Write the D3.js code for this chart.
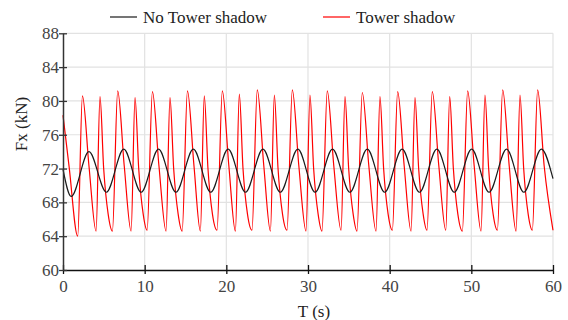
<!DOCTYPE html>
<html>
<head>
<meta charset="utf-8">
<script src="https://cdn.jsdelivr.net/npm/d3@7"></script>
<style>
  body { margin: 0; background: #fff; }
  svg text { font-family: "Liberation Serif"; }
  .grid line { stroke: #e2e2e2; stroke-width: 1.2; }
</style>
</head>
<body>
<svg width="568" height="320"></svg>
<script>
// tick labels
const xTicks = [0, 10, 20, 30, 40, 50, 60];
const yTicks = [60, 64, 68, 72, 76, 80, 84, 88];

// No Tower shadow: start, troughs, peaks, end (T in s, Fx in kN)
const blackT = [0, 1.0, 3.18, 5.31, 7.44, 9.57, 11.70, 13.83, 15.96, 18.09, 20.22, 22.35, 24.48,
  26.61, 28.76, 30.87, 33.0, 35.13, 37.26, 39.39, 41.52, 43.65, 45.78, 47.91, 50.04,
  52.17, 54.32, 56.43, 58.58, 60];
const blackV = [71.9, 68.7, 74.0, 69.2, 74.3, 69.2, 74.3, 69.2, 74.3, 69.2, 74.3, 69.2, 74.3,
  69.2, 74.3, 69.2, 74.3, 69.2, 74.3, 69.2, 74.3, 69.2, 74.3, 69.2, 74.3,
  69.2, 74.3, 69.2, 74.3, 70.8];

// Tower shadow: peaks
const redPeakT = [2.38, 4.53, 6.70, 8.82, 10.95, 13.10, 15.24, 17.30, 19.51, 21.59, 23.79, 25.88,
  28.08, 30.24, 32.36, 34.53, 36.65, 38.81, 40.98, 43.10, 45.22, 47.35, 49.55, 51.67,
  53.84, 55.96, 58.12];
const redPeakV = [80.6, 80.5, 81.2, 80.4, 81.1, 80.4, 81.2, 80.6, 81.2, 80.8, 81.3, 80.7,
  81.3, 80.7, 81.2, 80.5, 81.0, 80.5, 81.1, 80.4, 81.1, 80.5, 81.2, 80.7,
  81.3, 80.7, 81.3];
// Tower shadow: minima (incl. start and end)
const redMinT = [0, 1.8, 4.05, 6.05, 8.34, 10.30, 12.62, 14.59, 16.82, 18.86, 21.11, 23.14, 25.40,
  27.43, 29.76, 31.71, 34.05, 36.00, 38.33, 40.33, 42.62, 44.57, 46.87, 48.90, 51.19,
  53.19, 55.48, 57.47, 60];
const redMinV = [78.3, 64.0, 64.6, 64.6, 64.6, 64.7, 64.6, 64.6, 64.6, 64.7, 64.6, 64.7, 64.6,
  64.7, 64.6, 64.6, 64.7, 64.6, 64.6, 64.7, 64.6, 64.7, 64.7, 64.6, 64.6,
  64.7, 64.6, 64.7, 64.7];
// Tower shadow: bends on the falling edges
const redKneeT = [0.75, 3.18, 4.98, 5.53, 7.50, 9.27, 9.82, 11.75, 13.55, 14.10, 16.04, 17.75, 18.30,
  20.31, 22.04, 22.59, 24.59, 26.33, 26.88, 28.88, 30.69, 31.24, 33.16, 34.98, 35.53,
  37.45, 39.26, 39.81, 41.78, 43.55, 44.10, 46.02, 47.80, 48.35, 50.35, 52.12, 52.67,
  54.64, 56.41, 56.96, 58.92];
const redKneeV = [72.2, 72.3, 72.0, 66.6, 72.3, 72.0, 66.6, 72.3, 72.0, 66.6, 72.3, 72.0, 66.6,
  72.3, 72.0, 66.6, 72.3, 72.0, 66.6, 72.3, 72.0, 66.6, 72.3, 72.0, 66.6,
  72.3, 72.0, 66.6, 72.3, 72.0, 66.6, 72.3, 72.0, 66.6, 72.3, 72.0, 66.6,
  72.3, 72.0, 66.6, 72.3];

const svg = d3.select("svg");
const plotLeft = 63, plotRight = 553, plotTop = 33.3, plotBottom = 270;
const serif = "Liberation Serif";

const x = d3.scaleLinear().domain([0, 60]).range([plotLeft, plotRight]);
const y = d3.scaleLinear().domain([60, 88]).range([plotBottom, plotTop]);

const blackData = blackT.map((t, i) => [t, blackV[i]]);
const redData = []
  .concat(redPeakT.map((t, i) => [t, redPeakV[i]]))
  .concat(redMinT.map((t, i) => [t, redMinV[i]]))
  .concat(redKneeT.map((t, i) => [t, redKneeV[i]]))
  .sort((a, b) => a[0] - b[0]);

// grid
const grid = svg.append("g").attr("class", "grid");
grid.selectAll(".gx").data(xTicks.slice(1)).enter().append("line")
  .attr("x1", d => x(d)).attr("x2", d => x(d))
  .attr("y1", plotTop).attr("y2", plotBottom);
grid.selectAll(".gy").data(yTicks.slice(1)).enter().append("line")
  .attr("x1", plotLeft).attr("x2", plotRight)
  .attr("y1", d => y(d)).attr("y2", d => y(d));

const line = d3.line()
  .x(d => x(d[0]))
  .y(d => y(d[1]))
  .curve(d3.curveMonotoneX);

svg.append("path")
  .datum(redData)
  .attr("fill", "none")
  .attr("stroke", "#ff0000")
  .attr("stroke-width", 1.2)
  .attr("d", line);

svg.append("path")
  .datum(blackData)
  .attr("fill", "none")
  .attr("stroke", "#1a1a1a")
  .attr("stroke-width", 1.2)
  .attr("d", line);

// axes
const xAxis = svg.append("g")
  .attr("transform", `translate(0,${plotBottom})`)
  .call(d3.axisBottom(x).tickValues(xTicks).tickSize(4).tickPadding(6).tickSizeOuter(0));
xAxis.select(".domain").attr("stroke", "#111").attr("stroke-width", 1.5);
xAxis.selectAll(".tick line").attr("y1", -5).attr("stroke", "#111").attr("stroke-width", 1.3);

const yAxis = svg.append("g")
  .attr("transform", `translate(${plotLeft},0)`)
  .call(d3.axisLeft(y).tickValues(yTicks).tickSize(4).tickPadding(0).tickSizeOuter(0));
yAxis.select(".domain").attr("stroke", "#333").attr("stroke-width", 1.5);
yAxis.selectAll(".tick line").attr("x1", 4).attr("stroke", "#333").attr("stroke-width", 1.3);

svg.selectAll(".tick text")
  .style("font-family", serif)
  .style("font-size", "17px")
  .attr("fill", "#444");

// axis titles
svg.append("text")
  .attr("x", 314).attr("y", 317)
  .attr("text-anchor", "middle")
  .style("font-family", serif).style("font-size", "17px")
  .attr("fill", "#222")
  .text("T (s)");

svg.append("text")
  .attr("transform", "translate(27,124) rotate(-90)")
  .attr("text-anchor", "middle")
  .style("font-family", serif).style("font-size", "17px")
  .attr("fill", "#222")
  .text("Fx (kN)");

// legend
const legend = [
  {name: "No Tower shadow", color: "#1a1a1a", x: 110},
  {name: "Tower shadow", color: "#ff0000", x: 323}
];
const lg = svg.append("g").selectAll("g").data(legend).enter().append("g")
  .attr("transform", d => `translate(${d.x},17)`);
lg.append("line")
  .attr("x1", 0).attr("x2", 27)
  .attr("stroke", d => d.color).attr("stroke-width", 1.2);
lg.append("text")
  .attr("x", 33).attr("y", 5.5)
  .style("font-family", serif).style("font-size", "17px")
  .attr("fill", "#222")
  .text(d => d.name);
</script>
</body>
</html>
